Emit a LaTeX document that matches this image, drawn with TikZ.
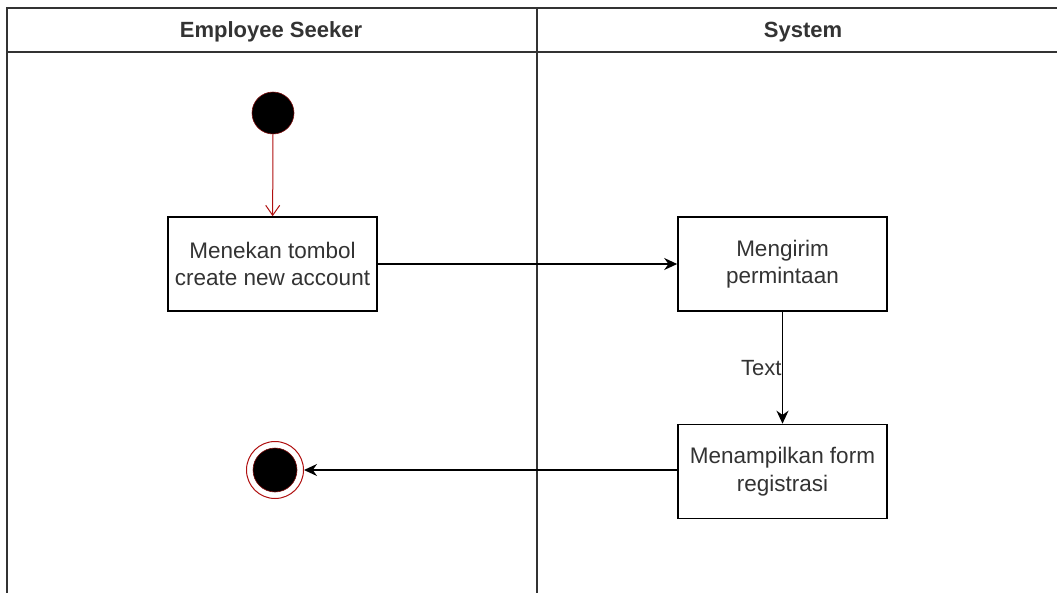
\documentclass[tikz,border=0pt]{standalone}
\usepackage{fontspec}
\setmainfont{Liberation Sans}
\usetikzlibrary{arrows.meta}
\definecolor{txt}{HTML}{333333}
\definecolor{ring}{HTML}{B01010}
\tikzset{
  lane/.style={draw=black!80, line width=1.4pt},
  actbox/.style={draw=black, line width=1.6pt, minimum width=209pt, minimum height=94pt,
    align=center, text=txt, font=\fontsize{22.5}{27.5}\selectfont, inner sep=0pt},
  hdr/.style={font=\fontsize{22}{26}\selectfont\bfseries, text=txt},
  flow/.style={draw=black, line width=1.5pt, -{Stealth[length=13pt,width=12pt]}},
  startflow/.style={draw=ring, line width=1pt, -{Straight Barb[length=10pt,width=14pt]}},
  initial/.style={circle, fill=black, draw=ring!70!black, line width=0.6pt, minimum size=42pt, inner sep=0pt},
  finalring/.style={circle, draw=ring, line width=1pt, minimum size=57pt, inner sep=0pt},
  finaldot/.style={circle, fill=black, draw=ring!70!black, line width=0.6pt, minimum size=44pt, inner sep=0pt},
  lbl/.style={text=txt, font=\fontsize{22}{26}\selectfont}
}
\begin{document}
\begin{tikzpicture}[x=1pt, y=-1pt]
\useasboundingbox (0,0) rectangle (1057,592);
\fill[white] (0,0) rectangle (1057,592);

% swimlanes
\draw[lane] (1060,8) -- (7,8) -- (7,600);
\draw[lane] (7,52) -- (1060,52);
\draw[lane] (537,8) -- (537,600);
\node[hdr] (h1) at (271,32) {Employee Seeker};
\node[hdr] (h2) at (803,32) {System};

% activity nodes
\node[initial] (start) at (273,113) {};
\node[actbox] (a1) at (272.5,264) {Menekan tombol\\create new account};
\node[actbox] (a2) at (782.5,264) {Mengirim\\permintaan};
\node[actbox] (a3) at (782.5,471.5) {Menampilkan form\\registrasi};
\node[finalring] (endring) at (275,470) {};
\node[finaldot] (enddot) at (275,470) {};

% flows
\draw[startflow] (start) -- (a1);
\draw[flow] (a1) -- (a2);
\draw[flow] (a2) -- node[lbl, left, xshift=3pt] {Text} (a3);
\draw[flow] (a3.west |- endring) -- (endring);
\end{tikzpicture}
\end{document}
